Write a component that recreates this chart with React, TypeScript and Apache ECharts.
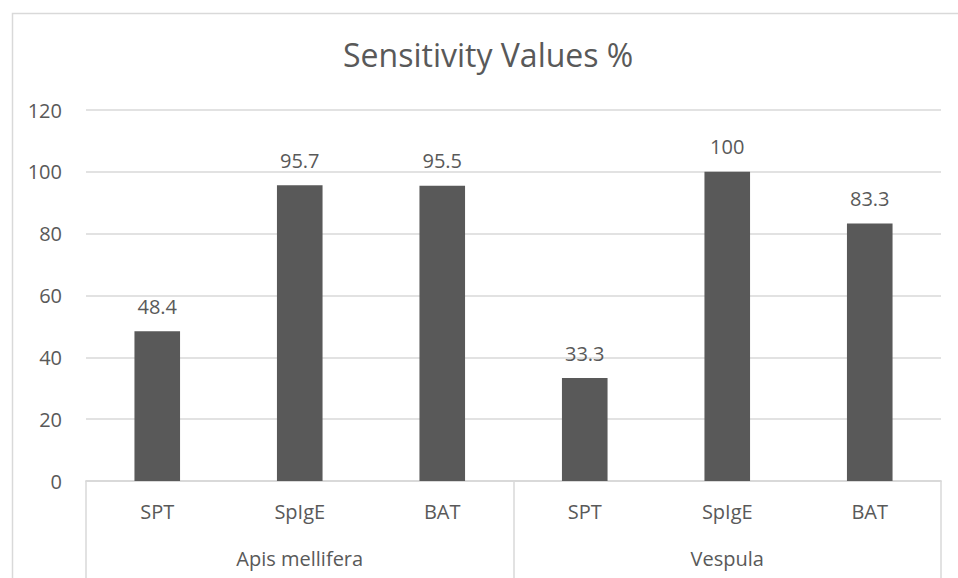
import React, { useEffect, useRef } from "react";
import * as echarts from "echarts";

const tests = ["SPT", "SpIgE", "BAT", "SPT", "SpIgE", "BAT"];
const groups = ["Apis mellifera", "Vespula"];
const sensitivity = [48.4, 95.7, 95.5, 33.3, 100, 83.3];
const yTicks = { min: 0, max: 120, interval: 20 };

const TEXT = "#595959";
const LINE = "#d9d9d9";
const FONT = "Open Sans";

export default function App() {
  const ref = useRef<HTMLDivElement>(null);
  useEffect(() => {
    if (!ref.current) return;
    const chart = echarts.init(ref.current, undefined, { renderer: "svg" });
    chart.setOption({
      animation: false,
      backgroundColor: "#ffffff",
      textStyle: { fontFamily: FONT, color: TEXT },
      title: {
        text: "Sensitivity Values %",
        left: 338,
        top: 33,
        textStyle: { fontFamily: FONT, fontSize: 32, fontWeight: "normal", color: TEXT },
      },
      graphic: [
        {
          type: "rect",
          left: 10,
          top: 11,
          shape: { width: 970, height: 590 },
          style: { fill: "none", stroke: LINE, lineWidth: 1.5 },
          silent: true,
        },
      ],
      grid: { left: 86, right: 17, top: 110, bottom: 97, containLabel: false },
      xAxis: [
        {
          type: "category",
          data: tests,
          position: "bottom",
          axisLine: { show: true, lineStyle: { color: LINE, width: 1.5 } },
          axisTick: { show: false },
          axisLabel: { margin: 20, fontSize: 20, color: TEXT, fontFamily: FONT, interval: 0 },
        },
        {
          type: "category",
          data: groups,
          position: "bottom",
          axisLine: { show: true, lineStyle: { color: LINE, width: 1.5 } },
          axisTick: { show: true, length: 97, interval: 0, lineStyle: { color: LINE, width: 1.5 } },
          axisLabel: { margin: 67, fontSize: 20, color: TEXT, fontFamily: FONT, interval: 0 },
        },
      ],
      yAxis: {
        type: "value",
        min: yTicks.min,
        max: yTicks.max,
        interval: yTicks.interval,
        axisLine: { show: false },
        axisTick: { show: false },
        axisLabel: { margin: 24, fontSize: 20, color: TEXT, fontFamily: FONT },
        splitLine: { show: true, lineStyle: { color: LINE, width: 1.5 } },
      },
      series: [
        {
          type: "bar",
          xAxisIndex: 0,
          data: sensitivity,
          barWidth: "32%",
          itemStyle: { color: "#595959" },
          label: {
            show: true,
            position: "top",
            distance: 15,
            fontSize: 20,
            color: TEXT,
            fontFamily: FONT,
          },
        },
      ],
    });
    return () => chart.dispose();
  }, []);
  return (
    <div
      ref={ref}
      style={{ position: "fixed", left: 0, top: 0, width: 958, height: 578 }}
    />
  );
}
